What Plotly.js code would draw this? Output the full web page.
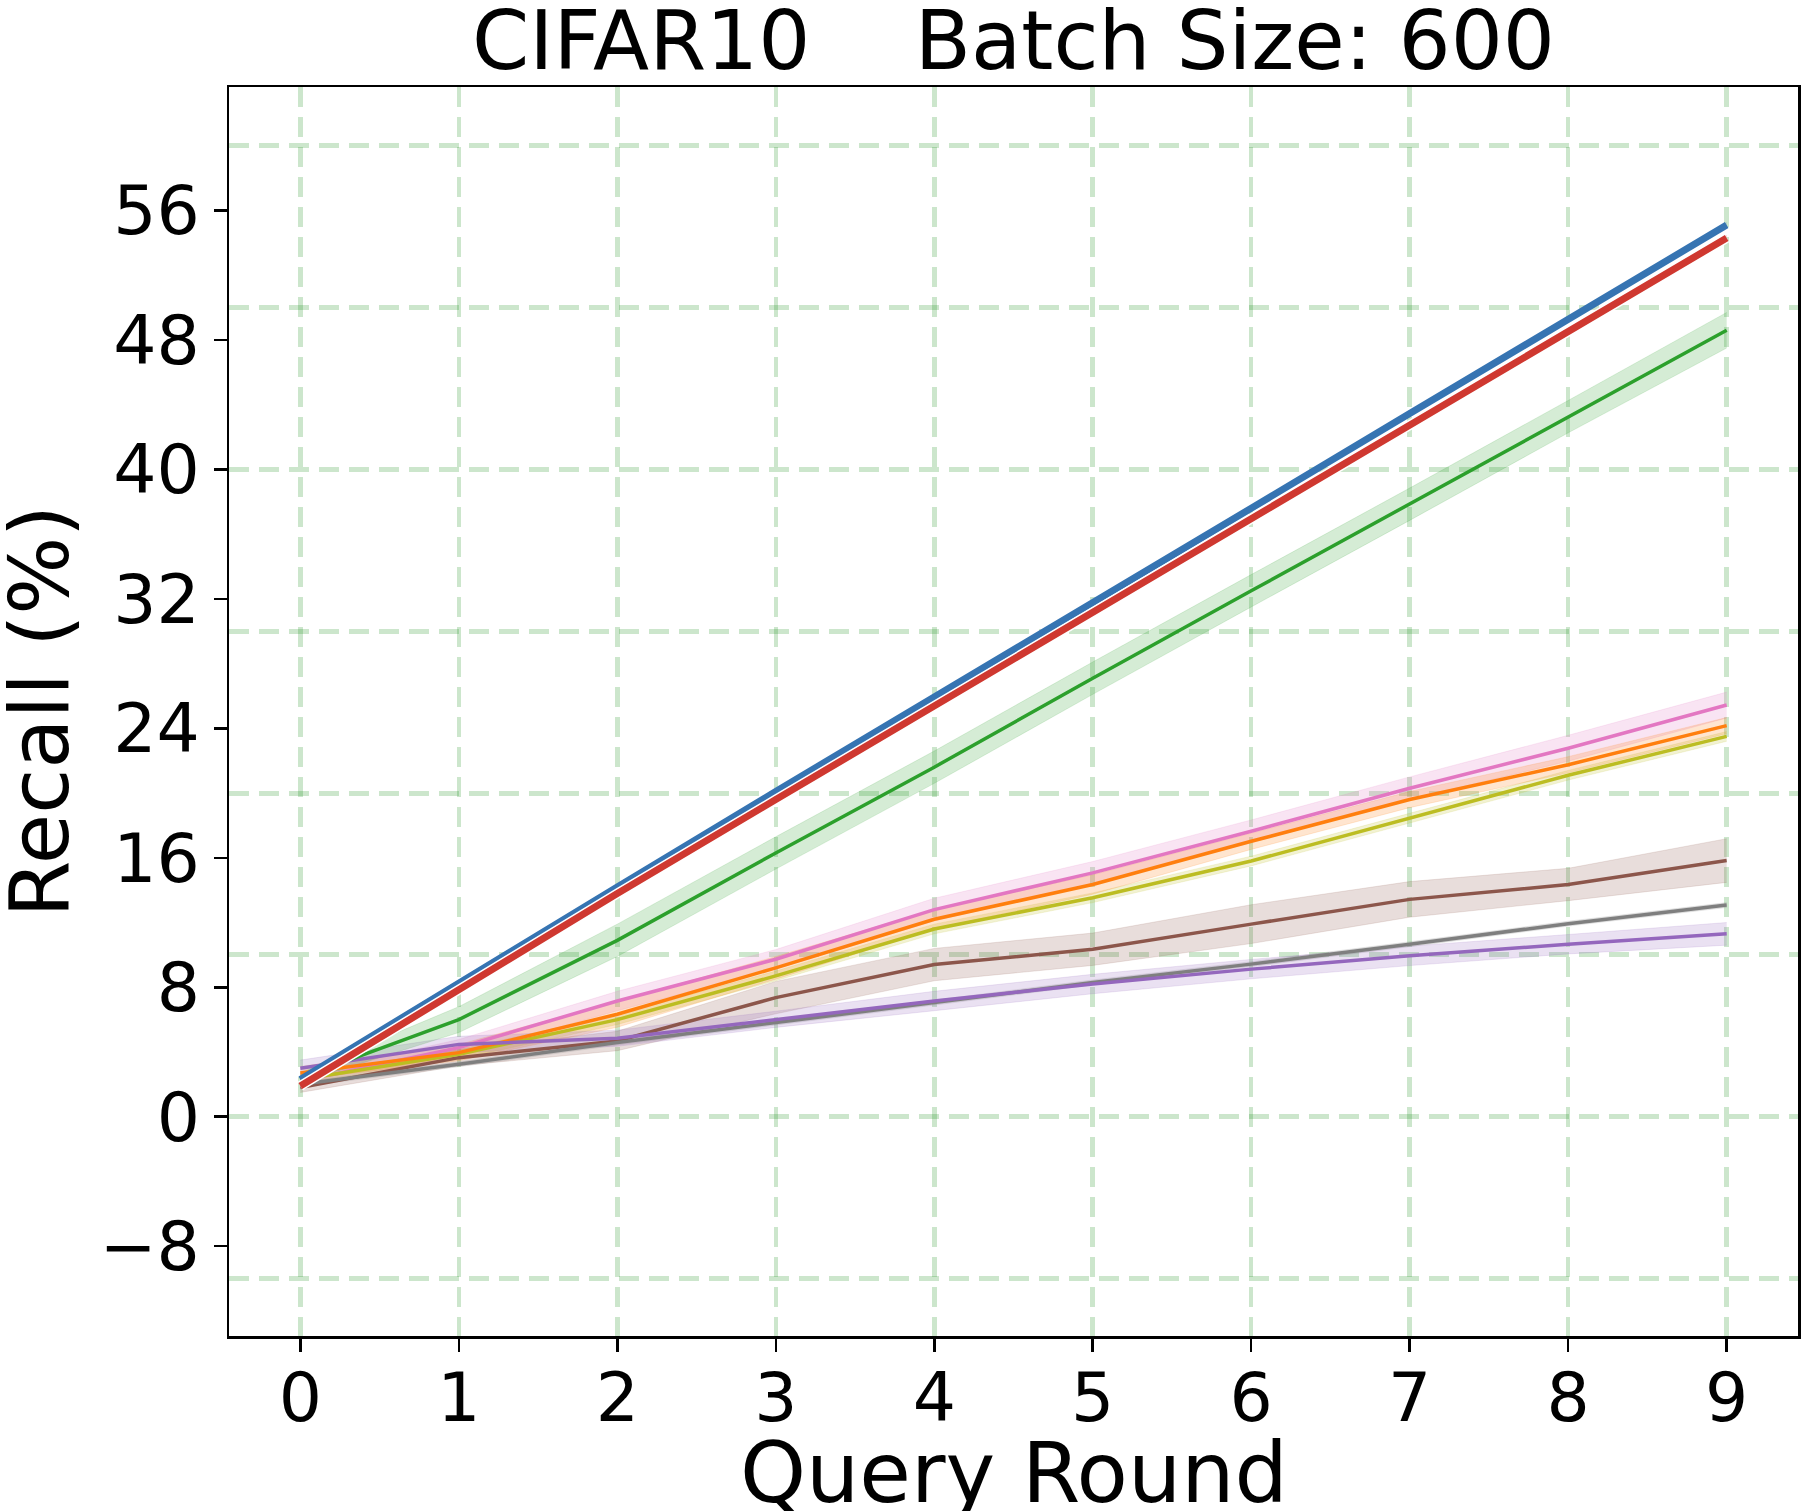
<!DOCTYPE html>
<html>
<head>
<meta charset="utf-8">
<script src="https://cdn.plot.ly/plotly-3.0.1.min.js"></script>
<style>
body{margin:0;background:#fff}
#myDiv{width:1810px;height:1511px}
</style>
</head>
<body>
<div id="myDiv"></div>
<script>
// query rounds on the x axis
var rounds=[0,1,2,3,4,5,6,7,8,9]

// mean recall (%) per method
var blueMean=[2.3,8.3,14.2,20.1,25.9,31.75,37.6,43.45,49.3,55.1]
var redMean=[1.9,7.9,13.8,19.6,25.4,31.2,36.95,42.8,48.6,54.3]
var greenMean=[2.4,6.0,10.9,16.3,21.6,27.1,32.5,37.85,43.26,48.6]
var pinkMean=[2.2,4.27,7.15,9.73,12.8,15.07,17.64,20.3,22.77,25.44]
var orangeMean=[2.7,3.96,6.33,9.2,12.2,14.35,17.02,19.6,21.75,24.17]
var oliveMean=[2.3,3.86,6.0,8.7,11.6,13.53,15.8,18.46,21.1,23.5]
var brownMean=[1.8,3.65,4.68,7.36,9.4,10.35,11.9,13.43,14.35,15.83]
var grayMean=[2.0,3.24,4.58,5.8,7.05,8.3,9.43,10.66,11.93,13.08]
var purpleMean=[3.0,4.47,4.85,6.02,7.15,8.2,9.12,9.94,10.66,11.3]

// half width of the shaded bands
var blueSd=[0.15,0.15,0.15,0.15,0.15,0.15,0.15,0.15,0.15,0.15]
var redSd=[0.15,0.15,0.15,0.15,0.15,0.15,0.15,0.15,0.15,0.15]
var greenSd=[0.3,0.8,1.0,1.0,1.0,1.0,1.0,1.0,1.0,1.1]
var pinkSd=[0.4,0.5,0.6,0.6,0.7,0.7,0.7,0.7,0.8,0.8]
var orangeSd=[0.4,0.5,0.8,0.7,0.6,0.6,0.5,0.5,0.5,0.5]
var oliveSd=[0.3,0.3,0.3,0.3,0.3,0.3,0.3,0.3,0.3,0.3]
var brownSd=[0.3,0.5,0.6,1.0,1.0,1.0,1.2,1.1,1.0,1.35]
var graySd=[0.15,0.15,0.15,0.15,0.15,0.15,0.15,0.15,0.15,0.15]
var purpleSd=[0.5,0.5,0.5,0.5,0.6,0.6,0.6,0.6,0.6,0.7]

var yTicks=[-8,0,8,16,24,32,40,48,56]
var yTickText=['\u22128','0','8','16','24','32','40','48','56']
var yGrid=[-10,0,10,20,30,40,50,60]
var yRange=[-13.55,63.63]

var gridColor='rgba(0,128,0,0.2)'
var gridDash='20px,10px'

function hexToRgba(hex,a){
	var r=parseInt(hex.substr(1,2),16)
	var g=parseInt(hex.substr(3,2),16)
	var b=parseInt(hex.substr(5,2),16)
	return 'rgba('+r+','+g+','+b+','+a+')'
}

// bands go on the grid axis (y), mean lines on the labelled axis (y2)
function addSeries(bands,lines,mean,sd,color,width,outline){
	var upper=[]
	var lower=[]
	var i
	for(i=0;i<mean.length;i++){
		upper.push(mean[i]+sd[i])
		lower.push(mean[i]-sd[i])
	}
	bands.push({x:rounds,y:lower,yaxis:'y',mode:'lines',line:{color:hexToRgba(color,0.15),width:1},hoverinfo:'skip',showlegend:false})
	bands.push({x:rounds,y:upper,yaxis:'y',mode:'lines',fill:'tonexty',fillcolor:hexToRgba(color,0.2),line:{color:hexToRgba(color,0.15),width:1},hoverinfo:'skip',showlegend:false})
	if(outline){
		lines.push({x:rounds,y:mean,yaxis:'y2',mode:'lines',line:{color:'#ffffff',width:width+3},showlegend:false})
	}
	lines.push({x:rounds,y:mean,yaxis:'y2',mode:'lines',line:{color:color,width:width},showlegend:false})
}

var bands=[]
var lines=[]
addSeries(bands,lines,brownMean,brownSd,'#8c564b',3.5)
addSeries(bands,lines,pinkMean,pinkSd,'#e377c2',3.5)
addSeries(bands,lines,oliveMean,oliveSd,'#bcbd22',3.5)
addSeries(bands,lines,orangeMean,orangeSd,'#ff7f0e',3.5)
addSeries(bands,lines,grayMean,graySd,'#7f7f7f',3.5)
addSeries(bands,lines,purpleMean,purpleSd,'#9467bd',3.5)
addSeries(bands,lines,greenMean,greenSd,'#2ca02c',3.5)
addSeries(bands,lines,blueMean,blueSd,'#3674b2',7)
addSeries(bands,lines,redMean,redSd,'#cf3830',7,true)
var data=bands.concat(lines)

var fontFam='"DejaVu Sans", sans-serif'
var layout={
	width:1810,
	height:1511,
	paper_bgcolor:'#ffffff',
	plot_bgcolor:'#ffffff',
	margin:{l:229,r:12,t:87,b:175},
	showlegend:false,
	title:{text:'CIFAR10&nbsp;&nbsp;&nbsp;&nbsp;Batch Size: 600',font:{family:fontFam,size:82,color:'#000'},x:0.5,xref:'paper',xanchor:'center',y:1-40/1511,yref:'container',yanchor:'middle'},
	xaxis:{
		range:[-0.45,9.45],
		tickvals:rounds,
		ticks:'outside',ticklen:13,tickwidth:2.5,tickcolor:'#000',
		tickfont:{family:fontFam,size:68,color:'#000'},
		ticklabelstandoff:-12,
		showline:true,linecolor:'#000',linewidth:2.5,mirror:true,
		showgrid:true,gridcolor:gridColor,gridwidth:4.5,griddash:gridDash,
		zeroline:false
	},
	yaxis:{
		range:yRange,
		tickvals:yGrid,showticklabels:false,ticks:'',
		showgrid:true,gridcolor:gridColor,gridwidth:5,griddash:gridDash,
		showline:false,zeroline:false
	},
	yaxis2:{
		overlaying:'y',anchor:'x',side:'left',
		range:yRange,
		tickvals:yTicks,ticktext:yTickText,
		ticks:'outside',ticklen:13,tickwidth:2.5,tickcolor:'#000',
		tickfont:{family:fontFam,size:68,color:'#000'},
		showline:true,linecolor:'#000',linewidth:2.5,mirror:true,
		showgrid:false,zeroline:false
	},
	// axis titles as annotations so they sit where the original puts them
	annotations:[{
		text:'Query Round',xref:'paper',yref:'paper',x:0.5,y:0,
		xanchor:'center',yanchor:'top',yshift:-86,showarrow:false,
		font:{family:fontFam,size:84,color:'#000'}
	},{
		text:'Recall (%)',xref:'paper',yref:'paper',x:0,y:0.5,
		xanchor:'center',yanchor:'middle',xshift:-190,textangle:-90,showarrow:false,
		font:{family:fontFam,size:82,color:'#000'}
	}]
}

Plotly.newPlot('myDiv',data,layout,{staticPlot:true})
</script>
</body>
</html>
